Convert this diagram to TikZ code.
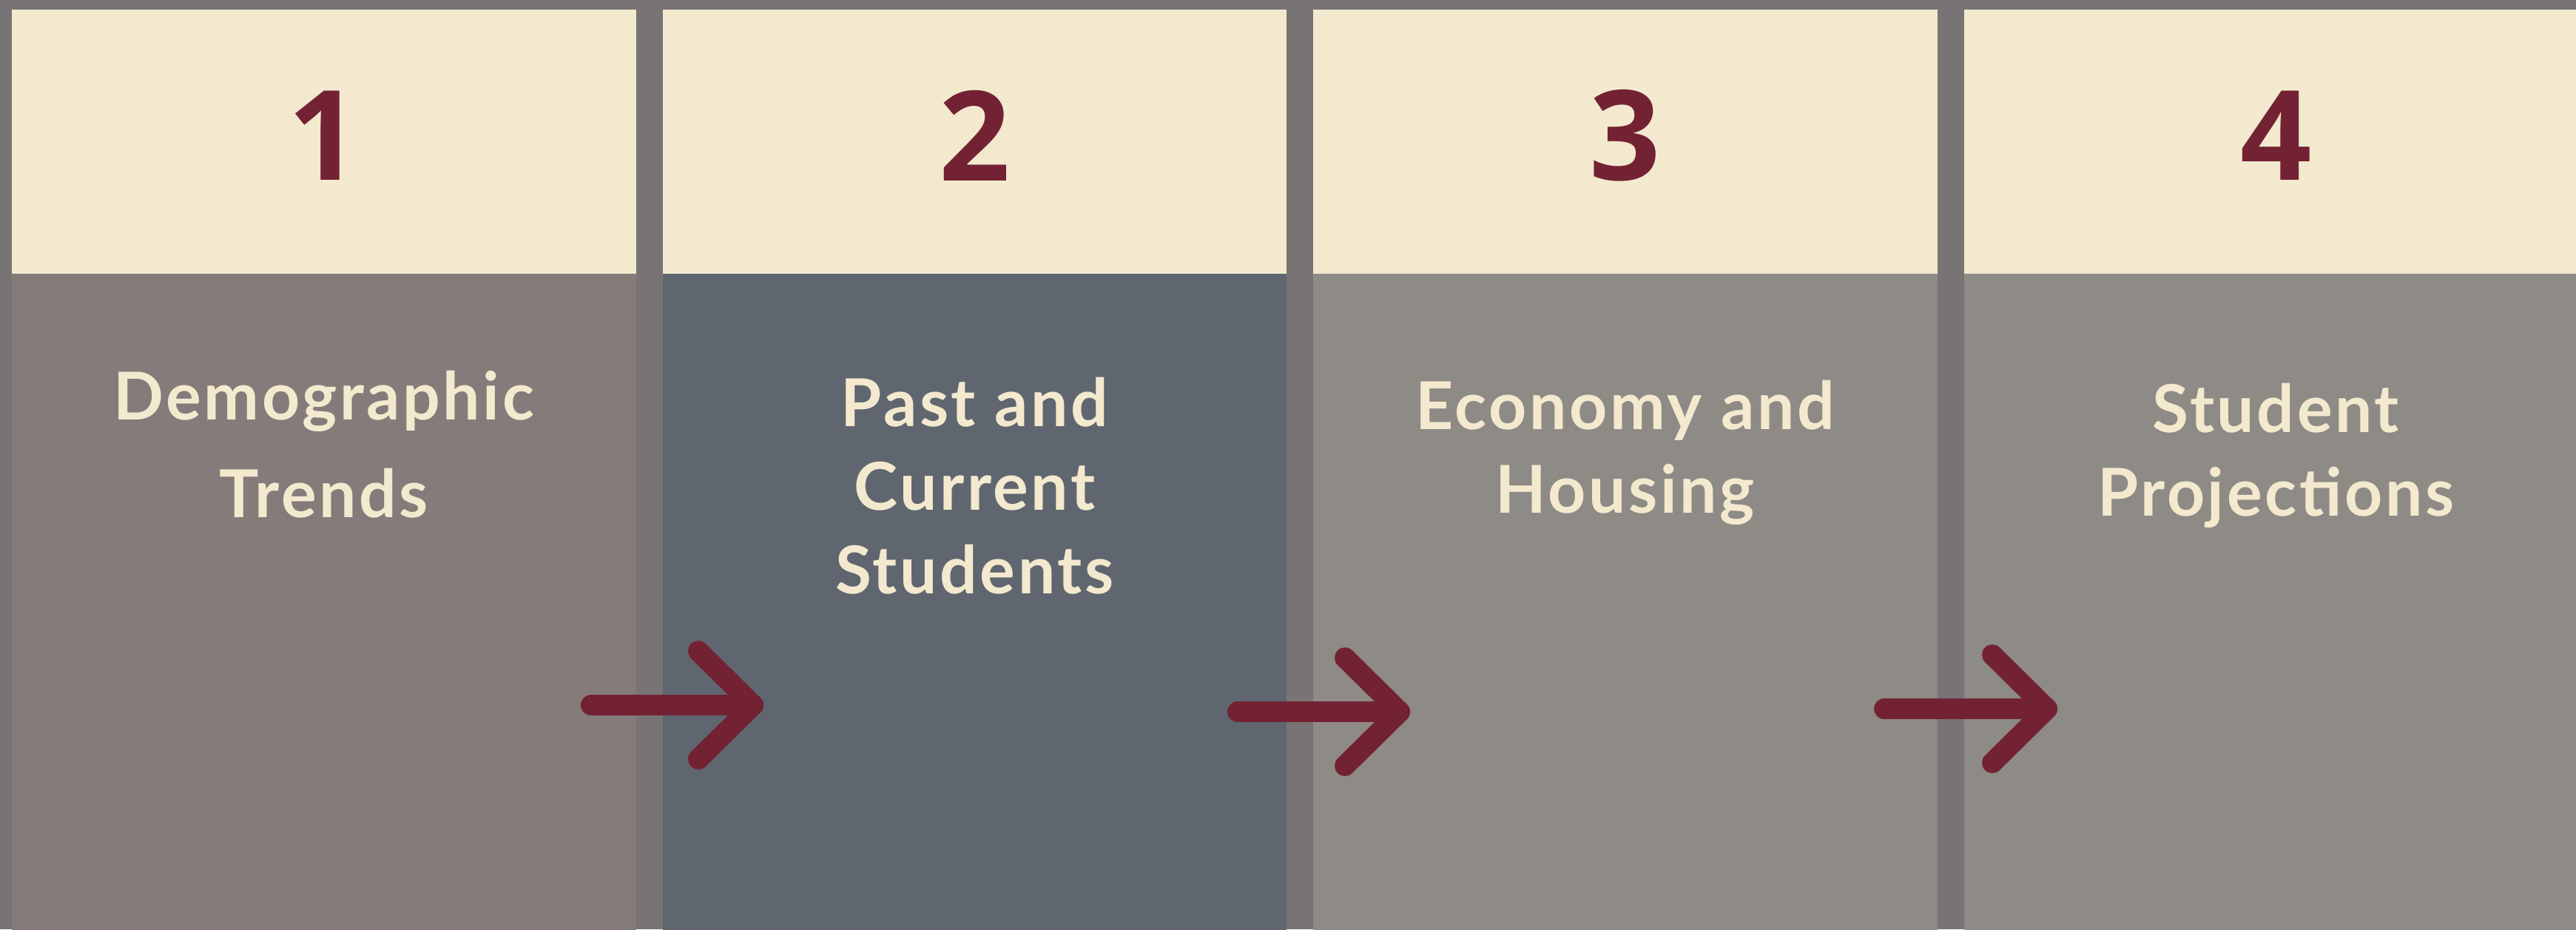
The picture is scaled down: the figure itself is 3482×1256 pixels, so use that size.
\documentclass[tikz,border=0pt]{standalone}
\usepackage{fontspec}
\newfontfamily\titlefont[LetterSpace=4.0]{Lato}
\newfontfamily\numfont{Open Sans}
\usepackage{tikz}
\usetikzlibrary{positioning, calc}

\definecolor{framegray}{HTML}{787475}
\definecolor{cream}{HTML}{F3E9CE}
\definecolor{maroon}{HTML}{732234}
\definecolor{bodyrose}{HTML}{847B7A}
\definecolor{bodyslate}{HTML}{5F666F}
\definecolor{bodystone}{HTML}{8E8A86}

\begin{document}
\begin{tikzpicture}[
      x=0.01cm,
      y=-0.01cm,
      node distance=3.6mm,
      head/.style={
          rectangle,
          fill=cream,
          inner sep=0pt,
          outer sep=0pt,
          minimum width=84.3mm,
          minimum height=35.7mm
        },
      body/.style={
          rectangle,
          inner sep=0pt,
          outer sep=0pt,
          minimum width=84.3mm,
          minimum height=88.6mm
        },
      num/.style={
          text=maroon,
          inner sep=0pt,
          font=\numfont\bfseries\fontsize{48pt}{48pt}\selectfont
        },
      title/.style={
          anchor=base,
          align=center,
          text=cream,
          inner sep=0pt,
          font=\titlefont\bfseries\fontsize{25.4pt}{32.1pt}\selectfont
        },
      arrowline/.style={
          draw=maroon,
          line width=2.8mm,
          line cap=round,
          line join=round
        }
    ]

    % Frame
    \useasboundingbox (0,0) rectangle (3482,1256);
    \clip (0,0) rectangle (3482,1256);
    \fill[framegray] (0,0) rectangle (3482,1256);

    % Nodes
    \node[head, anchor=north west] (head1) at (16,13) {};
    \node[head, right=of head1] (head2) {};
    \node[head, right=of head2] (head3) {};
    \node[head, right=of head3] (head4) {};
    \node[body, fill=bodyrose, below=0mm of head1] (body1) {};
    \node[body, fill=bodyslate, below=0mm of head2] (body2) {};
    \node[body, fill=bodystone, below=0mm of head3] (body3) {};
    \node[body, fill=bodystone, below=0mm of head4] (body4) {};

    \node[num] (num1) at ([yshift=0.08cm]head1.center) {1};
    \node[num] (num2) at ([yshift=0.08cm]head2.center) {2};
    \node[num] (num3) at ([yshift=0.08cm]head3.center) {3};
    \node[num] (num4) at ([yshift=0.08cm]head4.center) {4};

    % last baseline sits on the anchor
    \node[title, font=\titlefont\bfseries\fontsize{25.4pt}{37.6pt}\selectfont]
      (trends) at ([yshift=-3.29cm]body1.north) {Demographic\\Trends};
    \node[title] (students) at ([yshift=-4.32cm]body2.north) {Past and\\Current\\Students};
    \node[title] (housing) at ([yshift=-3.23cm]body3.north) {Economy and\\Housing};
    \node[title] (projections) at ([yshift=-3.27cm]body4.north) {Student\\Projections};

    \coordinate (from1) at (799,953);
    \coordinate (to1) at (1018,953);
    \coordinate (from2) at (1673,962);
    \coordinate (to2) at (1892,962);
    \coordinate (from3) at (2547,958);
    \coordinate (to3) at (2767,958);

    % Arrows
    \draw[arrowline] (from1) -- (to1);
    \draw[arrowline] ($(to1)+(-74,-73)$) -- (to1) -- ($(to1)+(-74,73)$);
    \draw[arrowline] (from2) -- (to2);
    \draw[arrowline] ($(to2)+(-74,-73)$) -- (to2) -- ($(to2)+(-74,73)$);
    \draw[arrowline] (from3) -- (to3);
    \draw[arrowline] ($(to3)+(-74,-73)$) -- (to3) -- ($(to3)+(-74,73)$);
  \end{tikzpicture}
\end{document}
